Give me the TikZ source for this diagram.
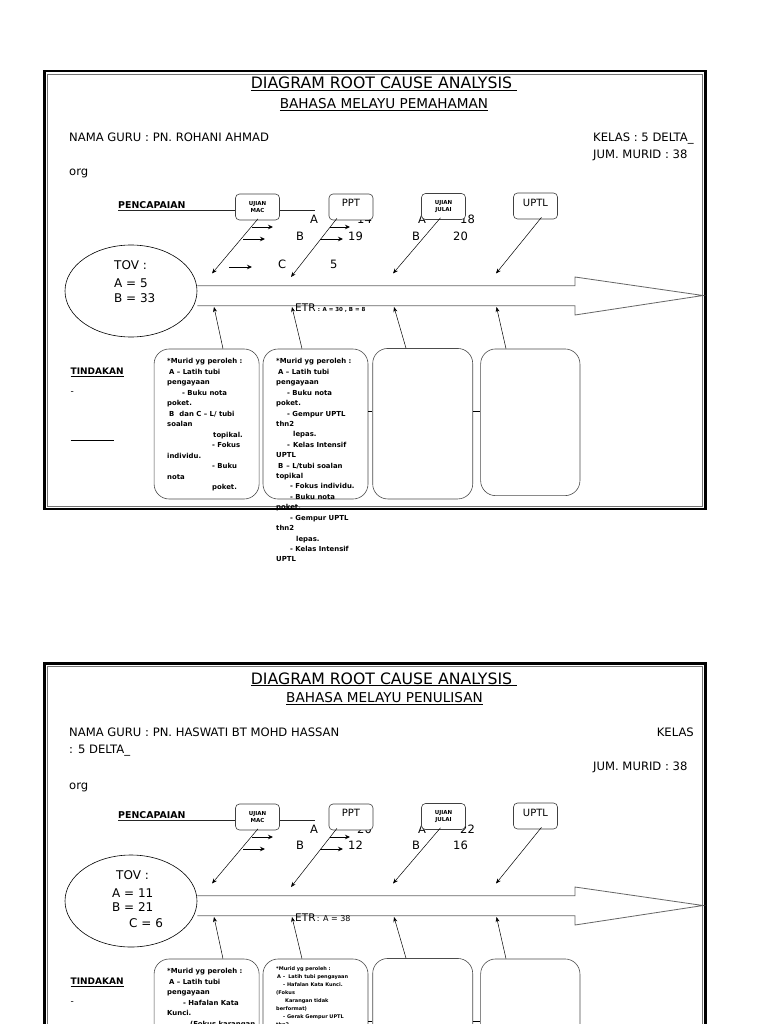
\documentclass[tikz,border=0pt]{standalone}
\usepackage{fontspec}
\setmainfont{DejaVu Sans}
\usetikzlibrary{arrows.meta,shapes.geometric}
\newcommand\fsz[2]{\fontsize{#1}{#2}\selectfont}
\tikzset{
  txt/.style={inner sep=0pt, anchor=base west},
  ctxt/.style={inner sep=0pt, anchor=base},
  rtxt/.style={inner sep=0pt, anchor=base east},
  sbox/.style={draw=black!75, fill=white, rounded corners=4pt, minimum width=44pt, minimum height=26pt, inner sep=0pt, line width=0.6pt},
  tbox/.style={draw=black!70, rounded corners=15pt, inner sep=0pt, line width=0.6pt},
  btxt/.style={inner sep=0pt, align=left, anchor=north west},
  arr/.style={-{Stealth[length=5pt,width=4pt]}, line width=0.5pt},
  harr/.style={-{Stealth[length=5pt,width=4.5pt]}, line width=0.9pt},
  frameout/.style={line width=2.4pt, draw=black},
  framein/.style={line width=0.5pt, draw=black!55},
  fat/.style={draw=black!60, line width=0.8pt},
  tov/.style={draw=black, line width=0.6pt, ellipse, minimum width=132pt, minimum height=92pt, inner sep=0pt},
  num/.style={inner sep=0pt, anchor=base west, font=\fsz{11.5}{13}},
  tovt/.style={inner sep=0pt, anchor=base west, font=\fsz{12}{14}},
  head/.style={inner sep=0pt, font=\fsz{11.6}{13}},
}
\newcommand\rcabody[1]{%
  % PENCAPAIAN and line
  \node[txt, font=\fsz{9.4}{10}\bfseries] (#1pen) at (118,208.3) {PENCAPAIAN};
  \coordinate (#1pl) at (315,210.5);
  \draw[line width=0.8pt, black!85] ([yshift=-2.2pt]#1pen.base west) -- (#1pl);
  % small boxes
  \node[sbox, font=\fsz{5.5}{7.8}\bfseries, align=center] (#1mac) at (257.5,207) {UJIAN\\MAC};
  \node[sbox] (#1ppt) at (351,207) {};
  \node[ctxt, font=\fsz{10}{11}] (#1pptt) at (351,206.8) {PPT};
  \node[sbox, font=\fsz{5.5}{7.8}\bfseries, align=center] (#1jul) at (443.5,206.5) {UJIAN\\JULAI};
  \node[sbox] (#1uptl) at (535.5,206) {};
  \node[ctxt, font=\fsz{10}{11}] (#1uptlt) at (535.5,206.5) {UPTL};
  % diagonal arrows from boxes
  \coordinate (#1d1) at (212,273.5);
  \coordinate (#1d2) at (291,277);
  \coordinate (#1d3) at (393,273.5);
  \coordinate (#1d4) at (496,273.5);
  \draw[arr] ([xshift=0.5pt,yshift=1.5pt]#1mac.south) -- (#1d1);
  \draw[arr] ([xshift=-14pt,yshift=2pt]#1ppt.south) -- (#1d2);
  \draw[arr] ([xshift=-3pt,yshift=2pt]#1jul.south) -- (#1d3);
  \draw[arr] ([xshift=6pt,yshift=2pt]#1uptl.south) -- (#1d4);
  % ellipse and big arrow
  \node[tov] (#1tov) at (131,291) {};
  \draw[fat] (#1tov.east |- 0,285.7) -- (575,285.7) -- (575,277) -- (703,295.5) -- (575,315) -- (575,305.7) -- (#1tov.east |- 0,305.7);
  \node[txt, font=\fsz{10.5}{11}] (#1etr) at (295,311.5) {ETR};
  % tall boxes
  \node[tbox, minimum width=105pt, minimum height=150pt] (#1b1) at (206.6,424) {};
  \node[tbox, minimum width=105pt, minimum height=150pt] (#1b2) at (315.5,424) {};
  \node[tbox, minimum width=100pt, minimum height=150.5pt] (#1b3) at (422.7,423.7) {};
  \node[tbox, minimum width=99.3pt, minimum height=146.7pt] (#1b4) at (530.3,422.3) {};
  \draw[line width=0.6pt] ([yshift=13pt]#1b2.east) -- ([yshift=12.7pt]#1b3.west);
  \draw[line width=0.6pt] ([yshift=12.7pt]#1b3.east) -- ([yshift=11.3pt]#1b4.west);
  % arrows up to the shaft
  \coordinate (#1u1) at (214,307);
  \coordinate (#1u2) at (292,307);
  \coordinate (#1u3) at (394,307);
  \coordinate (#1u4) at (496.5,307);
  \draw[arr] ([xshift=16.4pt]#1b1.north) -- (#1u1);
  \draw[arr] ([xshift=-13.5pt]#1b2.north) -- (#1u2);
  \draw[arr] ([xshift=-16.7pt]#1b3.north) -- (#1u3);
  \draw[arr] ([xshift=-24.3pt]#1b4.north) -- (#1u4);
  % TINDAKAN
  \node[txt, font=\fsz{9}{10}\bfseries] (#1tin) at (70.5,374.8) {\underline{TINDAKAN}};
  \node[txt, font=\fsz{9}{10}] (#1dash) at (70.5,394.5) {-};
  \coordinate (#1la) at (70.5,440.7);
  \coordinate (#1lb) at (114,440.7);
  \draw[line width=0.6pt] (#1la) -- (#1lb);
  % short arrows near UJIAN MAC and PPT
  \coordinate (#1s1a) at (252,227); \coordinate (#1s1b) at (273,227);
  \coordinate (#1s2a) at (243,239); \coordinate (#1s2b) at (265,239);
  \coordinate (#1s4a) at (330,227); \coordinate (#1s4b) at (350,227);
  \coordinate (#1s5a) at (320,239); \coordinate (#1s5b) at (343,239);
  \draw[harr] (#1s1a) -- (#1s1b);
  \draw[harr] (#1s2a) -- (#1s2b);
  \draw[harr] (#1s4a) -- (#1s4b);
  \draw[harr] (#1s5a) -- (#1s5b);
}
\begin{document}
\begin{tikzpicture}[x=1pt,y=-1pt]
\useasboundingbox (0,0) rectangle (768,1024);
\clip (0,0) rectangle (768,1024);
\fill[white] (0,0) rectangle (768,1024);

% ================= TOP PANEL =================
\draw[frameout] (44.5,71) rectangle (705.5,509);
\draw[framein] (47.5,74) rectangle (702.5,506);
\node[ctxt, font=\fsz{15.7}{18}] (ttitle) at (384,89) {\underline{DIAGRAM ROOT CAUSE ANALYSIS\ }};
\node[ctxt, font=\fsz{13.6}{15}] (tsub) at (384,108.5) {\underline{BAHASA MELAYU PEMAHAMAN}};
\node[head, anchor=base west] (tnama) at (69,141.7) {NAMA GURU : PN. ROHANI AHMAD};
\node[head, anchor=base west] (tkelas) at (593,141.7) {KELAS : 5 DELTA\_};
\node[head, anchor=base west] (tjum) at (593,158.5) {JUM. MURID : 38};
\node[head, anchor=base west] (torg) at (69,176) {org};

% numbers (drawn before boxes so the boxes overlap them)
\node[num] (ta1) at (310,223.2) {A};
\node[num] (tn14) at (357,223.2) {14};
\node[num] (tb1) at (296,240.2) {B};
\node[num] (tn19) at (348,240.2) {19};
\node[num] (ta2) at (418,223.2) {A};
\node[num] (tn18) at (460,223.2) {18};
\node[num] (tb2) at (412,240.2) {B};
\node[num] (tn20) at (453,240.2) {20};
\node[num] (tc1) at (278,268.2) {C};
\node[num] (tn5) at (330,268.2) {5};

\rcabody{t}
\coordinate (ts3a) at (229,267); \coordinate (ts3b) at (252,267);
\draw[harr] (ts3a) -- (ts3b);

\node[tovt] (ttov1) at (114,269.4) {TOV :};
\node[tovt] (ttov2) at (114,287.1) {A = 5};
\node[tovt] (ttov3) at (114,302.7) {B = 33};
\node[txt, font=\fsz{5.5}{6}\bfseries] (tetr2) at ([xshift=2pt]tetr.base east) {: A = 30 , B = 8};

\node[btxt, font=\fsz{6.9}{10.5}\bfseries] (tb1t) at (167,358.5) {%
*Murid yg peroleh :\\
\hspace*{2pt}A – Latih tubi\\
pengayaan\\
\hspace*{15pt}- Buku nota\\
poket.\\
\hspace*{2pt}B\hspace{5pt}dan C – L/ tubi\\
soalan\\
\hspace*{46pt}topikal.\\
\hspace*{45pt}- Fokus\\
individu.\\
\hspace*{45pt}- Buku\\
nota\\
\hspace*{45pt}poket.};

\node[btxt, font=\fsz{6.9}{10.42}\bfseries] (tb2t) at (276,358.5) {%
*Murid yg peroleh :\\
\hspace*{2pt}A – Latih tubi\\
pengayaan\\
\hspace*{11pt}- Buku nota\\
poket.\\
\hspace*{11pt}- Gempur UPTL\\
thn2\\
\hspace*{17pt}lepas.\\
\hspace*{11pt}-\hspace{3pt}Kelas Intensif\\
UPTL\\
\hspace*{2pt}B\hspace{3pt}– L/tubi soalan\\
topikal\\
\hspace*{14pt}- Fokus individu.\\
\hspace*{14pt}- Buku nota\\
poket.\\
\hspace*{14pt}- Gempur UPTL\\
thn2\\
\hspace*{20pt}lepas.\\
\hspace*{14pt}- Kelas Intensif\\
UPTL};

% ================= BOTTOM PANEL =================
\draw[frameout] (44.5,663.5) rectangle (705.5,1100);
\draw[framein] (47.5,666.5) rectangle (702.5,1097);
\node[ctxt, font=\fsz{15.7}{18}] (btitle) at (384,684) {\underline{DIAGRAM ROOT CAUSE ANALYSIS\ }};
\node[ctxt, font=\fsz{13.6}{15}] (bsub) at (384.5,702.5) {\underline{BAHASA MELAYU PENULISAN}};
\node[head, anchor=base west] (bnama) at (69,736.5) {NAMA GURU : PN. HASWATI BT MOHD HASSAN};
\node[head, anchor=base east] (bkelas) at (694,736.5) {KELAS};
\node[head, anchor=base west] (bdelta) at (69,753) {: 5 DELTA\_};
\node[head, anchor=base west] (bjum) at (593,770) {JUM. MURID : 38};
\node[head, anchor=base west] (borg) at (69,789) {org};

\begin{scope}[shift={(0,610)}]
\node[num] (ba1) at (310,223.2) {A};
\node[num] (bn20) at (357,223.2) {20};
\node[num] (bb1) at (296,239.5) {B};
\node[num] (bn12) at (348,239.5) {12};
\node[num] (ba2) at (418,223.2) {A};
\node[num] (bn22) at (460,223.2) {22};
\node[num] (bb2) at (412,239.5) {B};
\node[num] (bn16) at (453,239.5) {16};

\rcabody{b}

\node[tovt] (btov1) at (116,269.4) {TOV :};
\node[tovt] (btov2) at (112,287.1) {A = 11};
\node[tovt] (btov3) at (112,301.7) {B = 21};
\node[tovt] (btov4) at (129,317.1) {C = 6};
\node[txt, font=\fsz{8}{9}] (betr2) at ([xshift=1pt]betr.base east) {: A = 38};

\node[btxt, font=\fsz{6.9}{10.5}\bfseries] (bb1t) at (167,358.2) {%
*Murid yg peroleh :\\
\hspace*{2pt}A – Latih tubi\\
pengayaan\\
\hspace*{16pt}- Hafalan Kata\\
Kunci.\\
\hspace*{23pt}(Fokus karangan};

\node[btxt, font=\fsz{5}{8.1}\bfseries] (bb2t) at (276,356) {%
*Murid yg peroleh :\\
\hspace*{1pt}A –\hspace{3pt}Latih tubi pengayaan\\
\hspace*{7pt}- Hafalan Kata Kunci.\\
(Fokus\\
\hspace*{9pt}Karangan tidak\\
berformat)\\
\hspace*{7pt}- Gerak Gempur UPTL\\
thn2};
\end{scope}
\end{tikzpicture}
\end{document}
